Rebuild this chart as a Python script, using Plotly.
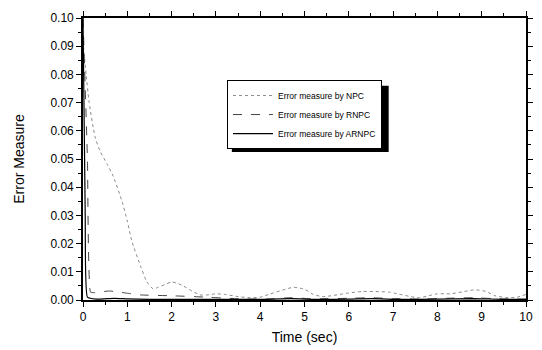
import plotly.graph_objects as go

# ---- data ----
npc_t = [0, 0.07, 0.14, 0.27, 0.38, 0.55, 0.68, 0.88, 1.0, 1.1, 1.3, 1.44, 1.58, 1.7, 1.85, 2.0, 2.15, 2.26,
         2.46, 2.64, 2.8, 3.0, 3.2, 3.5, 3.8, 4.0, 4.2, 4.5, 4.75, 5.0, 5.2, 5.4, 5.6, 5.8, 6.0, 6.3, 6.6,
         6.9, 7.1, 7.4, 7.6, 7.8, 8.0, 8.3, 8.6, 8.85, 9.1, 9.3, 9.6, 9.8, 10]
npc_v = [0.092, 0.080, 0.070, 0.058, 0.053, 0.048, 0.044, 0.035, 0.028, 0.021, 0.012, 0.0065, 0.004, 0.0045,
         0.0055, 0.0064, 0.0058, 0.005, 0.0032, 0.0018, 0.0018, 0.0022, 0.002, 0.0012, 0.0008, 0.001, 0.002,
         0.0035, 0.0045, 0.0038, 0.002, 0.0012, 0.0015, 0.002, 0.0025, 0.003, 0.003, 0.0028, 0.0022, 0.0012,
         0.0008, 0.0015, 0.0022, 0.0022, 0.003, 0.0036, 0.003, 0.0015, 0.0008, 0.001, 0.002]

rnpc_t = [0, 0.1, 0.17, 0.25, 0.6, 1.0, 1.3, 2.0, 2.8, 3.7, 4.2, 4.7, 5.2, 6.0, 6.5, 7.0, 7.6, 8.2, 8.8, 9.4, 10]
rnpc_v = [0.1, 0.05, 0.0028, 0.0026, 0.0032, 0.0024, 0.0018, 0.0015, 0.001, 0.0003, 0.0004, 0.0008, 0.0004,
          0.0006, 0.0008, 0.0005, 0.0003, 0.0006, 0.0008, 0.0004, 0.0003]

arnpc_t = [0, 0.05, 0.1, 0.3, 0.7, 1.0, 1.5, 2.0, 3.0, 4.0, 4.7, 5.3, 6.0, 6.5, 7.2, 8.0, 8.8, 9.5, 10]
arnpc_v = [0.1, 0.03, 0.001, 0.0003, 0.0006, 0.0004, 0.0002, 0.0002, 0.0002, 0.0002, 0.0005, 0.0002,
           0.0003, 0.0005, 0.0002, 0.0003, 0.0005, 0.0002, 0.0002]

x_ticks = [0, 1, 2, 3, 4, 5, 6, 7, 8, 9, 10]
y_ticks = [0.00, 0.01, 0.02, 0.03, 0.04, 0.05, 0.06, 0.07, 0.08, 0.09, 0.10]
y_tick_labels = [f"{v:.2f}" for v in y_ticks]

fig = go.Figure()
fig.add_trace(go.Scatter(x=npc_t, y=npc_v, mode="lines", name="Error measure by NPC",
                         line=dict(color="#8a8a8a", width=1, dash="dot", shape="spline", smoothing=0.6)))
fig.add_trace(go.Scatter(x=rnpc_t, y=rnpc_v, mode="lines", name="Error measure by RNPC",
                         line=dict(color="#444444", width=1, dash="dash", shape="spline", smoothing=0.4)))
fig.add_trace(go.Scatter(x=arnpc_t, y=arnpc_v, mode="lines", name="Error measure by ARNPC",
                         line=dict(color="#000000", width=1.2, shape="spline", smoothing=0.4)))

axis_common = dict(showline=True, linecolor="black", linewidth=1.6, mirror="allticks", ticks="outside",
                   tickcolor="black", ticklen=5, tickwidth=1, showgrid=False, zeroline=False,
                   automargin=False,
                   tickfont=dict(family="Liberation Sans, Arial", size=12, color="black"))

fig.update_layout(
    width=542, height=350,
    margin=dict(l=83, r=16, t=18, b=50),
    paper_bgcolor="white", plot_bgcolor="white",
    font=dict(family="Liberation Sans, Arial", color="black"),
    xaxis=dict(range=[0, 10], tickvals=x_ticks,
               title=dict(text="Time (sec)", font=dict(size=14), standoff=9),
               minor=dict(ticks="outside", dtick=0.5, ticklen=3, tickcolor="black"), **axis_common),
    yaxis=dict(range=[0, 0.10], tickvals=y_ticks, ticktext=y_tick_labels,
               title=dict(text="Error Measure", font=dict(size=14), standoff=23),
               minor=dict(ticks="outside", dtick=0.005, ticklen=3, tickcolor="black"), **axis_common),
    legend=dict(x=0.325, y=0.78, xanchor="left", yanchor="top", bgcolor="white", bordercolor="black",
                borderwidth=1, font=dict(family="Liberation Sans, Arial", size=8.5, color="black"),
                itemwidth=40, tracegroupgap=0),
    showlegend=True,
)

# legend drop shadow (drawn under the legend box, offset down-right)
fig.add_shape(type="rect", xref="paper", yref="paper", x0=0.336, x1=0.69, y0=0.525, y1=0.76,
              fillcolor="black", line=dict(width=0), layer="above")

fig.write_html("out.html")
